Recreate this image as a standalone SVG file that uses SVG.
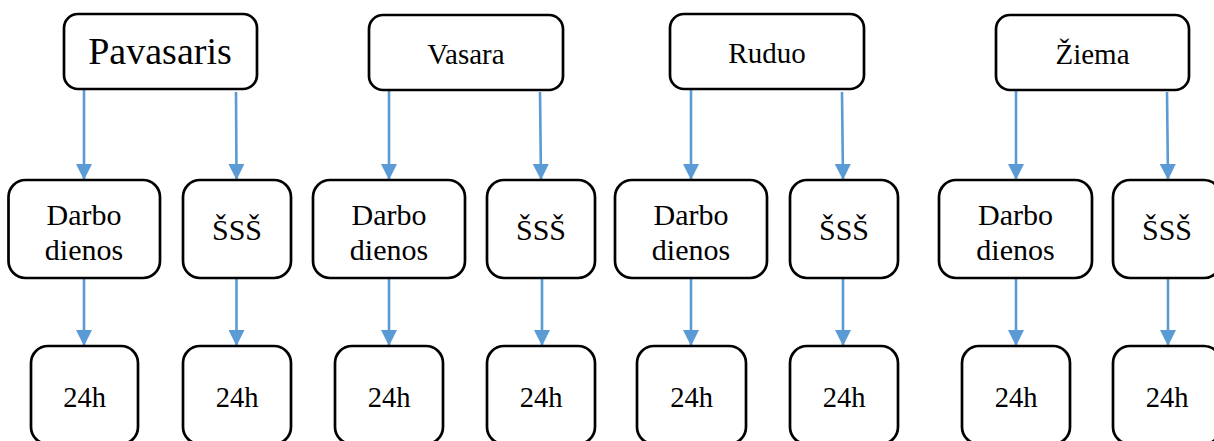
<svg xmlns="http://www.w3.org/2000/svg" width="1214" height="441" viewBox="0 0 1214 441">
  <defs>
    <marker id="arrow" viewBox="0 0 16 16" refX="16" refY="8" markerWidth="16" markerHeight="16" markerUnits="userSpaceOnUse" orient="auto">
      <path d="M0,0 L16,8 L0,16 z" fill="#5B9BD5"/>
    </marker>
  </defs>
  <style>
    .box { fill: #ffffff; stroke: #000000; stroke-width: 2.7; }
    .lbl { font-family: "Liberation Serif", "Times New Roman", serif; fill: #000000; text-anchor: middle; }
    .season { font-size: 29px; }
    .big { font-size: 38px; }
    .sub { font-size: 30px; }
    .hrs { font-size: 28.5px; }
    .conn line { stroke: #5B9BD5; stroke-width: 2.6; marker-end: url(#arrow); }
  </style>

  <rect width="1214" height="441" fill="#ffffff"/>

  <!-- connectors -->
  <g id="connectors" class="conn">
    <!-- Pavasaris -->
    <line x1="84" y1="90" x2="84" y2="180"/>
    <line x1="236" y1="92" x2="236.5" y2="180"/>
    <line x1="84" y1="279" x2="84" y2="346"/>
    <line x1="236.5" y1="279" x2="236.5" y2="346"/>
    <!-- Vasara -->
    <line x1="389" y1="91" x2="389" y2="180"/>
    <line x1="540" y1="92" x2="541" y2="180"/>
    <line x1="389" y1="279" x2="389" y2="346"/>
    <line x1="542" y1="279" x2="542" y2="346"/>
    <!-- Ruduo -->
    <line x1="691" y1="90" x2="691" y2="180"/>
    <line x1="842" y1="92" x2="843" y2="180"/>
    <line x1="691" y1="279" x2="691" y2="346"/>
    <line x1="843" y1="279" x2="843" y2="346"/>
    <!-- Žiema -->
    <line x1="1016" y1="91" x2="1016" y2="180"/>
    <line x1="1167" y1="92" x2="1168" y2="180"/>
    <line x1="1016" y1="279" x2="1016" y2="346"/>
    <line x1="1168" y1="279" x2="1168" y2="346"/>
  </g>

  <!-- season nodes -->
  <g id="pavasaris">
    <rect class="box" x="64" y="14" width="193" height="75" rx="14"/>
    <text class="lbl big" x="160" y="64">Pavasaris</text>
  </g>
  <g id="vasara">
    <rect class="box" x="369" y="15" width="194" height="75" rx="14"/>
    <text class="lbl season" x="466" y="64">Vasara</text>
  </g>
  <g id="ruduo">
    <rect class="box" x="670" y="14" width="194" height="75" rx="14"/>
    <text class="lbl season" x="767" y="63">Ruduo</text>
  </g>
  <g id="ziema">
    <rect class="box" x="996" y="15" width="193" height="75" rx="14"/>
    <text class="lbl season" x="1092.5" y="64">Žiema</text>
  </g>

  <!-- day-type nodes -->
  <g id="pavasaris-darbo">
    <rect class="box" x="8.5" y="180" width="151.5" height="98" rx="17"/>
    <text class="lbl sub" x="84" y="225">Darbo</text>
    <text class="lbl sub" x="84" y="260">dienos</text>
  </g>
  <g id="pavasaris-sss">
    <rect class="box" x="183" y="180" width="108" height="98" rx="17"/>
    <text class="lbl sub" x="237" y="240">ŠSŠ</text>
  </g>
  <g id="vasara-darbo">
    <rect class="box" x="313" y="180" width="152" height="98" rx="17"/>
    <text class="lbl sub" x="389" y="225">Darbo</text>
    <text class="lbl sub" x="389" y="260">dienos</text>
  </g>
  <g id="vasara-sss">
    <rect class="box" x="487" y="180" width="108" height="98" rx="17"/>
    <text class="lbl sub" x="541" y="240">ŠSŠ</text>
  </g>
  <g id="ruduo-darbo">
    <rect class="box" x="615" y="180" width="152" height="98" rx="17"/>
    <text class="lbl sub" x="691" y="225">Darbo</text>
    <text class="lbl sub" x="691" y="260">dienos</text>
  </g>
  <g id="ruduo-sss">
    <rect class="box" x="790" y="180" width="108" height="98" rx="17"/>
    <text class="lbl sub" x="844" y="240">ŠSŠ</text>
  </g>
  <g id="ziema-darbo">
    <rect class="box" x="939" y="180" width="153" height="98" rx="17"/>
    <text class="lbl sub" x="1015.5" y="225">Darbo</text>
    <text class="lbl sub" x="1015.5" y="260">dienos</text>
  </g>
  <g id="ziema-sss">
    <rect class="box" x="1113" y="180" width="108" height="98" rx="17"/>
    <text class="lbl sub" x="1167" y="240">ŠSŠ</text>
  </g>

  <!-- hour nodes -->
  <g id="pavasaris-darbo-24h">
    <rect class="box" x="31" y="346" width="107" height="98" rx="17"/>
    <text class="lbl hrs" x="84.5" y="407">24h</text>
  </g>
  <g id="pavasaris-sss-24h">
    <rect class="box" x="183" y="346" width="108" height="98" rx="17"/>
    <text class="lbl hrs" x="237" y="407">24h</text>
  </g>
  <g id="vasara-darbo-24h">
    <rect class="box" x="335" y="346" width="108" height="98" rx="17"/>
    <text class="lbl hrs" x="389" y="407">24h</text>
  </g>
  <g id="vasara-sss-24h">
    <rect class="box" x="487" y="346" width="108" height="98" rx="17"/>
    <text class="lbl hrs" x="541" y="407">24h</text>
  </g>
  <g id="ruduo-darbo-24h">
    <rect class="box" x="637" y="346" width="109" height="98" rx="17"/>
    <text class="lbl hrs" x="691.5" y="407">24h</text>
  </g>
  <g id="ruduo-sss-24h">
    <rect class="box" x="790" y="346" width="108" height="98" rx="17"/>
    <text class="lbl hrs" x="844" y="407">24h</text>
  </g>
  <g id="ziema-darbo-24h">
    <rect class="box" x="962" y="346" width="108" height="98" rx="17"/>
    <text class="lbl hrs" x="1016" y="407">24h</text>
  </g>
  <g id="ziema-sss-24h">
    <rect class="box" x="1113" y="346" width="108" height="98" rx="17"/>
    <text class="lbl hrs" x="1167" y="407">24h</text>
  </g>
</svg>
